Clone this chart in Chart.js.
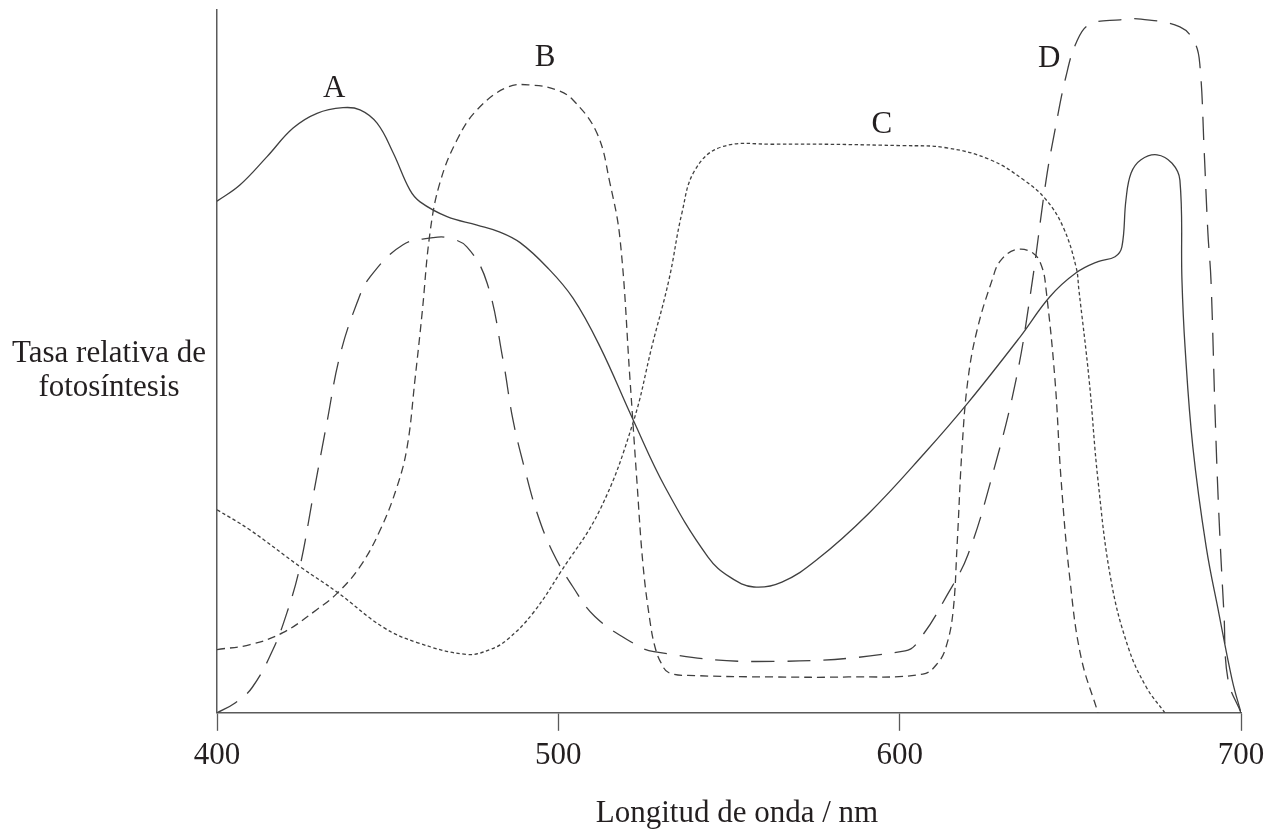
<!DOCTYPE html>
<html>
<head>
<meta charset="utf-8">
<title>Tasa relativa de fotosíntesis</title>
<script src="https://cdn.jsdelivr.net/npm/chart.js@4/dist/chart.umd.min.js"></script>
<style>
    body { margin: 0; background: #fff; }
    #wrap { width: 1279px; height: 834px; }
</style>
</head>
<body>
<div id="wrap"><canvas id="photoChart" width="1279" height="834"></canvas></div>
<script>
// x axis ticks (nm)
const xTicks = [400, 500, 600, 700];

// curve A (solid)
const aWave = [400, 406.7, 414.6, 422.3, 429.3, 436.9, 441.9, 446.9, 451.6, 456.5, 459.5, 467.4, 476.2, 482.9, 488.8, 496.7, 504.3, 512.2, 521.9, 531.3, 543.8, 550.3, 557.3, 565.5, 575.8, 591.0, 607.4, 620.0, 635.3, 644.0, 651.7, 658.1, 663.1, 665.1, 666.3, 667.8, 670.7, 675.4, 679.8, 682.1, 682.7, 683.6, 685.9, 689.8, 693.5, 697.4, 700];
const aRate = [72.8, 75.1, 79.1, 83.2, 85.3, 86.1, 85.8, 83.9, 79.7, 74.4, 72.7, 70.6, 69.4, 68.4, 66.9, 63.4, 59.0, 52.1, 41.7, 32.1, 22.2, 19.3, 17.9, 18.6, 21.8, 28.4, 37.0, 44.1, 53.5, 59.2, 62.6, 64.2, 64.9, 66.3, 73.0, 76.8, 78.7, 79.4, 78.2, 75.8, 61.6, 52.1, 37.8, 23.6, 14.2, 4.7, 0];

// curve B (short dashes)
const bWave = [400, 409.7, 419.3, 429.3, 435.4, 441.9, 447.8, 452.7, 455.7, 458.0, 460.1, 462.4, 465.3, 470.3, 476.2, 485.0, 492.6, 499.6, 504.3, 511.3, 515.1, 518.1, 521.0, 523.0, 524.8, 526.8, 528.3, 530.1, 532.4, 540.0, 563.0, 585.0, 606.8, 611.2, 613.6, 615.6, 616.8, 618.3, 620.0, 622.7, 627.1, 629.5, 634.1, 639.1, 641.7, 642.9, 645.5, 647.3, 649.9, 653.1, 658.1];
const bRate = [9.0, 9.7, 11.4, 14.7, 17.1, 20.8, 26.0, 32.1, 37.8, 47.4, 56.9, 68.3, 75.4, 81.5, 85.8, 89.0, 89.3, 88.6, 87.2, 82.5, 75.4, 67.3, 47.4, 33.1, 21.1, 13.2, 9.4, 7.1, 5.7, 5.3, 5.1, 5.1, 5.5, 7.1, 9.4, 14.2, 23.6, 37.8, 47.4, 54.5, 61.6, 64.3, 65.9, 65.4, 63.4, 60.2, 47.4, 33.1, 18.9, 8.0, 0];

// curve C (fine dots)
const cWave = [400, 409.7, 424.3, 435.4, 448.6, 458.6, 473.2, 480.0, 485.0, 492.6, 500.5, 512.2, 521.9, 527.4, 532.4, 536.2, 540.0, 547.7, 562.9, 601.0, 613.6, 626.5, 636.4, 642.9, 647.9, 651.7, 652.5, 655.5, 658.1, 661.9, 666.9, 672.2, 677.7];
const cRate = [28.9, 26.0, 20.8, 17.1, 12.2, 10.0, 8.3, 9.0, 10.4, 14.2, 19.9, 28.9, 41.3, 52.1, 61.6, 71.1, 77.2, 80.5, 80.9, 80.7, 80.4, 78.7, 75.8, 73.0, 69.1, 63.4, 60.2, 47.4, 33.1, 18.9, 9.4, 3.7, 0];

// curve D (long dashes)
const dWave = [400, 405.3, 410.3, 416.4, 420.8, 424.3, 428.1, 432.2, 436.0, 441.0, 444.8, 454.5, 463.3, 467.4, 473.2, 479.1, 483.8, 486.7, 490.2, 493.8, 498.4, 504.3, 510.7, 521.6, 528.0, 557.9, 601.6, 606.8, 613.6, 620.0, 627.6, 634.1, 638.5, 642.9, 645.5, 648.7, 651.7, 655.5, 664.6, 670.7, 682.1, 686.5, 688.0, 689.2, 690.3, 691.2, 692.4, 693.5, 695.0, 696.2, 700];
const dRate = [0, 1.4, 3.6, 9.0, 14.7, 20.8, 30.7, 41.3, 50.8, 58.3, 62.0, 66.6, 67.6, 67.6, 66.3, 61.2, 50.2, 41.7, 34.6, 28.4, 22.8, 17.9, 13.7, 10.0, 8.7, 7.3, 8.8, 11.1, 16.5, 22.5, 34.6, 47.4, 60.2, 75.8, 82.9, 90.5, 95.3, 97.9, 98.6, 98.7, 97.6, 95.3, 91.9, 80.1, 68.3, 61.6, 42.7, 28.4, 14.2, 4.7, 0];

// curve names, placed in data units
const curveNames = ['A', 'B', 'C', 'D'];
const nameWave = [434.3, 496.1, 594.8, 643.8];
const nameRate = [87.6, 92.0, 82.5, 91.9];

const xTitle = 'Longitud de onda / nm';
const yTitle = ['Tasa relativa de', 'fotosíntesis'];

const ink = '#231f20';
const lineColor = '#404040';
const serif = '"Liberation Serif", "Times New Roman", serif';

function pairs(xs, ys) {
    return xs.map(function (x, i) { return {x: x, y: ys[i]}; });
}

function curve(xs, ys, dash) {
    return {
        data: pairs(xs, ys),
        borderColor: lineColor,
        borderWidth: 1.3,
        borderDash: dash,
        pointRadius: 0,
        fill: false,
        tension: 0.4
    };
}

// texts that are not ticks: curve letters and the two axis titles
const textPlugin = {
    id: 'texts',
    afterDraw: function (chart) {
        let ctx = chart.ctx;
        let xs = chart.scales.x;
        let ys = chart.scales.y;
        let area = chart.chartArea;
        ctx.save();
        ctx.fillStyle = ink;
        ctx.font = '31px ' + serif;
        ctx.textAlign = 'center';
        ctx.textBaseline = 'alphabetic';
        curveNames.forEach(function (name, i) {
            ctx.fillText(name, xs.getPixelForValue(nameWave[i]), ys.getPixelForValue(nameRate[i]));
        });
        ctx.fillText(xTitle, (area.left + area.right) / 2 + 8, 822);
        ctx.fillText(yTitle[0], 109, 362);
        ctx.fillText(yTitle[1], 109, 396);
        ctx.restore();
    }
};

document.addEventListener('DOMContentLoaded', function () {
    let context = document.getElementById('photoChart').getContext('2d');
    new Chart(context, {
        type: 'line',
        data: {
            datasets: [
                curve(aWave, aRate, []),
                curve(bWave, bRate, [8, 5]),
                curve(cWave, cRate, [3.5, 2.5]),
                curve(dWave, dRate, [23, 13])
            ]
        },
        options: {
            animation: false,
            responsive: false,
            devicePixelRatio: 1,
            layout: {
                padding: {left: 217, right: 38, top: 10, bottom: 54}
            },
            plugins: {
                legend: {display: false},
                tooltip: {enabled: false}
            },
            scales: {
                x: {
                    type: 'linear',
                    min: xTicks[0],
                    max: xTicks[xTicks.length - 1],
                    afterBuildTicks: function (axis) {
                        axis.ticks = xTicks.map(function (v) { return {value: v}; });
                    },
                    grid: {
                        drawOnChartArea: false,
                        drawTicks: true,
                        tickLength: 18,
                        tickWidth: 1.3,
                        tickColor: '#5a5a5a'
                    },
                    border: {color: '#5a5a5a', width: 1.5},
                    ticks: {
                        color: ink,
                        padding: 6,
                        maxRotation: 0,
                        autoSkip: false,
                        font: {family: serif, size: 31}
                    }
                },
                y: {
                    min: 0,
                    max: 100,
                    grid: {drawOnChartArea: false, drawTicks: false},
                    border: {color: '#5a5a5a', width: 1.5},
                    ticks: {display: false}
                }
            }
        },
        plugins: [textPlugin]
    });
});
</script>
</body>
</html>
